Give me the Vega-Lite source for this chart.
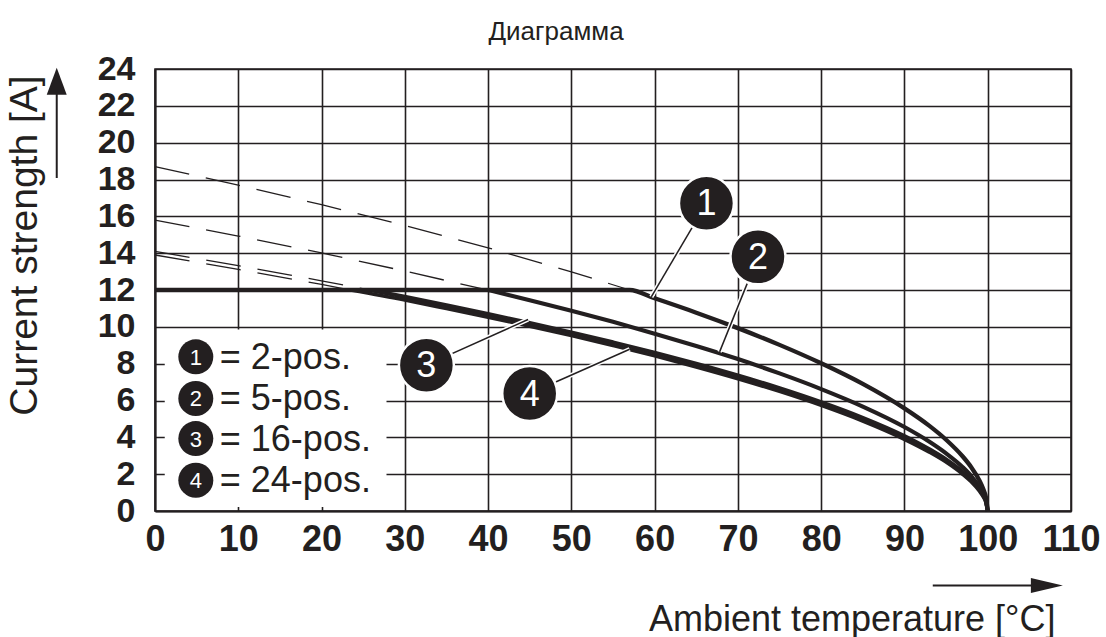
{
  "$schema": "https://vega.github.io/schema/vega-lite/v6.json",
  "width": 916,
  "height": 442,
  "autosize": {"type": "none"},
  "padding": {"left": 155, "top": 69, "right": 35, "bottom": 126},
  "background": "white",
  "title": {"text": "Диаграмма", "fontSize": 26, "font": "Liberation Sans", "fontWeight": "normal", "color": "#231f20", "anchor": "middle", "offset": 7, "dx": -57},
  "config": {
    "view": {"stroke": "#231f20", "strokeWidth": 1.6},
    "axis": {"labelFont": "Liberation Sans", "labelFontWeight": "bold", "labelFontSize": 35, "labelColor": "#231f20", "titleFont": "Liberation Sans", "titleFontWeight": "normal", "titleColor": "#231f20", "grid": true, "gridColor": "#231f20", "gridOpacity": 1, "gridWidth": 1.6, "domainColor": "#231f20", "domainWidth": 2, "ticks": false, "labelOverlap": false, "labelFlush": false}
  },
  "datasets": {
    "solid": [
      {"curve": "1", "t": 0, "a": 12}, {"curve": "1", "t": 57, "a": 12}, {"curve": "1", "t": 60, "a": 11.55}, {"curve": "1", "t": 65, "a": 10.77}, {"curve": "1", "t": 70, "a": 9.93}, {"curve": "1", "t": 75, "a": 9.02}, {"curve": "1", "t": 80, "a": 8.02}, {"curve": "1", "t": 85, "a": 6.9}, {"curve": "1", "t": 90, "a": 5.57}, {"curve": "1", "t": 93, "a": 4.62}, {"curve": "1", "t": 95, "a": 3.87}, {"curve": "1", "t": 97, "a": 2.96}, {"curve": "1", "t": 98, "a": 2.39}, {"curve": "1", "t": 99, "a": 1.66}, {"curve": "1", "t": 99.5, "a": 1.15}, {"curve": "1", "t": 99.8, "a": 0.71}, {"curve": "1", "t": 100, "a": 0},
      {"curve": "2", "t": 40, "a": 12}, {"curve": "2", "t": 45, "a": 11.44}, {"curve": "2", "t": 50, "a": 10.87}, {"curve": "2", "t": 55, "a": 10.27}, {"curve": "2", "t": 60, "a": 9.63}, {"curve": "2", "t": 65, "a": 8.96}, {"curve": "2", "t": 70, "a": 8.25}, {"curve": "2", "t": 75, "a": 7.47}, {"curve": "2", "t": 80, "a": 6.62}, {"curve": "2", "t": 85, "a": 5.67}, {"curve": "2", "t": 90, "a": 4.56}, {"curve": "2", "t": 93, "a": 3.76}, {"curve": "2", "t": 95, "a": 3.13}, {"curve": "2", "t": 97, "a": 2.38}, {"curve": "2", "t": 98, "a": 1.91}, {"curve": "2", "t": 99, "a": 1.31}, {"curve": "2", "t": 99.5, "a": 0.9}, {"curve": "2", "t": 99.8, "a": 0.55}, {"curve": "2", "t": 100, "a": 0},
      {"curve": "3", "t": 25.8, "a": 12}, {"curve": "3", "t": 30, "a": 11.63}, {"curve": "3", "t": 35, "a": 11.17}, {"curve": "3", "t": 40, "a": 10.7}, {"curve": "3", "t": 45, "a": 10.21}, {"curve": "3", "t": 50, "a": 9.7}, {"curve": "3", "t": 55, "a": 9.16}, {"curve": "3", "t": 60, "a": 8.6}, {"curve": "3", "t": 65, "a": 8.0}, {"curve": "3", "t": 70, "a": 7.36}, {"curve": "3", "t": 75, "a": 6.67}, {"curve": "3", "t": 80, "a": 5.91}, {"curve": "3", "t": 85, "a": 5.06}, {"curve": "3", "t": 90, "a": 4.07}, {"curve": "3", "t": 93, "a": 3.35}, {"curve": "3", "t": 95, "a": 2.8}, {"curve": "3", "t": 97, "a": 2.12}, {"curve": "3", "t": 98, "a": 1.7}, {"curve": "3", "t": 99, "a": 1.17}, {"curve": "3", "t": 99.5, "a": 0.81}, {"curve": "3", "t": 99.8, "a": 0.49}, {"curve": "3", "t": 100, "a": 0},
      {"curve": "4", "t": 23.5, "a": 12}, {"curve": "4", "t": 30, "a": 11.46}, {"curve": "4", "t": 35, "a": 11.0}, {"curve": "4", "t": 40, "a": 10.53}, {"curve": "4", "t": 45, "a": 10.04}, {"curve": "4", "t": 50, "a": 9.53}, {"curve": "4", "t": 55, "a": 8.99}, {"curve": "4", "t": 60, "a": 8.43}, {"curve": "4", "t": 65, "a": 7.83}, {"curve": "4", "t": 70, "a": 7.19}, {"curve": "4", "t": 75, "a": 6.5}, {"curve": "4", "t": 80, "a": 5.74}, {"curve": "4", "t": 85, "a": 4.89}, {"curve": "4", "t": 90, "a": 3.9}, {"curve": "4", "t": 93, "a": 3.2}, {"curve": "4", "t": 95, "a": 2.66}, {"curve": "4", "t": 97, "a": 2.0}, {"curve": "4", "t": 98, "a": 1.6}, {"curve": "4", "t": 99, "a": 1.09}, {"curve": "4", "t": 99.5, "a": 0.75}, {"curve": "4", "t": 99.8, "a": 0.45}, {"curve": "4", "t": 100, "a": 0}
    ],
    "dashed": [
      {"curve": "1", "t": 0, "a": 18.7}, {"curve": "1", "t": 10, "a": 17.69}, {"curve": "1", "t": 20, "a": 16.63}, {"curve": "1", "t": 30, "a": 15.5}, {"curve": "1", "t": 40, "a": 14.29}, {"curve": "1", "t": 50, "a": 12.99}, {"curve": "1", "t": 57, "a": 12.0},
      {"curve": "2", "t": 0, "a": 15.8}, {"curve": "2", "t": 10, "a": 14.93}, {"curve": "2", "t": 20, "a": 14.01}, {"curve": "2", "t": 30, "a": 13.03}, {"curve": "2", "t": 40, "a": 11.99},
      {"curve": "3", "t": 0, "a": 14.1}, {"curve": "3", "t": 10, "a": 13.32}, {"curve": "3", "t": 20, "a": 12.5}, {"curve": "3", "t": 25.8, "a": 12.0},
      {"curve": "4", "t": 0, "a": 13.9}, {"curve": "4", "t": 10, "a": 13.12}, {"curve": "4", "t": 20, "a": 12.3}, {"curve": "4", "t": 23.5, "a": 12.0}
    ],
    "legendbox": [{"t": 1.17, "a": 9.85, "t2": 27.8, "a2": 0.22}],
    "leaders": [
      {"n": "1", "t": 66.22, "a": 16.71, "t2": 59.6, "a2": 11.63},
      {"n": "2", "t": 72.41, "a": 13.8, "t2": 67.8, "a2": 8.64},
      {"n": "3", "t": 32.59, "a": 7.92, "t2": 44.8, "a2": 10.4},
      {"n": "4", "t": 45.0, "a": 6.38, "t2": 57.0, "a2": 8.78}
    ],
    "legend": [
      {"n": "1", "label": "= 2-pos.", "t": 4.9, "a": 8.37},
      {"n": "2", "label": "= 5-pos.", "t": 4.9, "a": 6.11},
      {"n": "3", "label": "= 16-pos.", "t": 4.9, "a": 3.93},
      {"n": "4", "label": "= 24-pos.", "t": 4.9, "a": 1.67}
    ],
    "arrows": [
      {"dir": "up", "t": -11.8, "a": 18.08, "t2": -11.8, "a2": 22.8},
      {"dir": "right", "t": 93.4, "a": -4.04, "t2": 105.8, "a2": -4.04}
    ],
    "heads": [
      {"dir": "up", "t": -11.8, "a": 23.33},
      {"dir": "right", "t": 107.1, "a": -4.04}
    ]
  },
  "encoding": {
    "x": {"field": "t", "type": "quantitative", "scale": {"domain": [0, 110], "nice": false, "zero": false},
      "axis": {"values": [0, 10, 20, 30, 40, 50, 60, 70, 80, 90, 100, 110], "labelPadding": 11, "labelFontSize": 36, "title": "Ambient temperature [°C]", "titleFontSize": 36, "titleX": 900, "titleY": 119, "titleAlign": "right", "titleBaseline": "alphabetic", "titleAnchor": "end"}},
    "y": {"field": "a", "type": "quantitative", "scale": {"domain": [0, 24], "nice": false, "zero": false},
      "axis": {"values": [0, 2, 4, 6, 8, 10, 12, 14, 16, 18, 20, 22, 24], "labelPadding": 20, "labelFontSize": 34, "title": "Current strength [A]", "titleFontSize": 39, "titleAngle": 270, "titleX": -118.6, "titleY": 176, "titleAlign": "center", "titleBaseline": "alphabetic"}}
  },
  "layer": [
    {"data": {"name": "legendbox"}, "mark": {"type": "rect", "fill": "white"}, "encoding": {"x2": {"field": "t2"}, "y2": {"field": "a2"}}},
    {"data": {"name": "dashed"}, "mark": {"type": "line", "color": "#231f20", "strokeWidth": 1.3, "strokeDash": [35, 17]}, "encoding": {"detail": {"field": "curve", "type": "nominal"}}},
    {"data": {"name": "solid"}, "mark": {"type": "line", "color": "#231f20", "interpolate": "monotone"}, "encoding": {"detail": {"field": "curve", "type": "nominal"}, "strokeWidth": {"field": "curve", "type": "nominal", "scale": {"domain": ["1", "2", "3", "4"], "range": [4.3, 3.8, 5, 5]}, "legend": null}}},
    {"data": {"name": "leaders"}, "mark": {"type": "rule", "color": "white", "strokeWidth": 4.5}, "encoding": {"x2": {"field": "t2"}, "y2": {"field": "a2"}}},
    {"data": {"name": "leaders"}, "mark": {"type": "rule", "color": "#231f20", "strokeWidth": 1.5}, "encoding": {"x2": {"field": "t2"}, "y2": {"field": "a2"}}},
    {"data": {"name": "leaders"}, "mark": {"type": "circle", "size": 3025, "fill": "#231f20", "fillOpacity": 1, "stroke": "white", "strokeWidth": 2.5, "opacity": 1}, "encoding": {}},
    {"data": {"name": "leaders"}, "mark": {"type": "text", "font": "Liberation Sans", "fontSize": 36, "fill": "white", "align": "center", "baseline": "middle", "dy": 1}, "encoding": {"text": {"field": "n"}}},
    {"data": {"name": "legend"}, "mark": {"type": "circle", "size": 1225, "fill": "#231f20", "fillOpacity": 1, "opacity": 1}, "encoding": {}},
    {"data": {"name": "legend"}, "mark": {"type": "text", "font": "Liberation Sans", "fontSize": 22, "fill": "white", "align": "center", "baseline": "middle", "dy": 1}, "encoding": {"text": {"field": "n"}}},
    {"data": {"name": "legend"}, "mark": {"type": "text", "font": "Liberation Sans", "fontSize": 36, "fill": "#231f20", "align": "left", "baseline": "middle", "dx": 24, "dy": 1}, "encoding": {"text": {"field": "label"}}},
    {"data": {"name": "arrows"}, "mark": {"type": "rule", "color": "#231f20", "strokeWidth": 2}, "encoding": {"x2": {"field": "t2"}, "y2": {"field": "a2"}}},
    {"data": {"name": "heads"}, "mark": {"type": "point", "filled": true, "color": "#231f20", "opacity": 1}, "encoding": {
      "shape": {"field": "dir", "type": "nominal", "scale": {"domain": ["up", "right"], "range": ["M0,-1L0.74,1L-0.74,1Z", "M1,0L-1,-0.47L-1,0.47Z"]}, "legend": null},
      "size": {"field": "dir", "type": "nominal", "scale": {"domain": ["up", "right"], "range": [729, 1024]}, "legend": null}}}
  ]
}
